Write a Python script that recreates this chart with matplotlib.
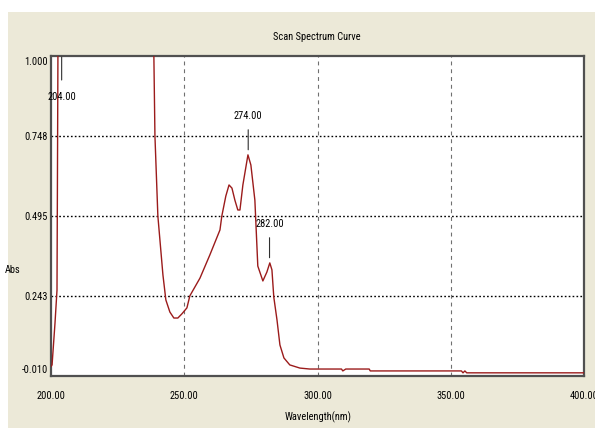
import numpy as np
import matplotlib
matplotlib.use("Agg")
import matplotlib.pyplot as plt
from matplotlib.patches import Rectangle
from matplotlib.transforms import offset_copy, ScaledTranslation
from matplotlib import font_manager

# prefer a narrow face for the labels
_names = {f.name for f in font_manager.fontManager.ttflist}
FONT = [n for n in ["Roboto Condensed", "Liberation Sans Narrow", "Open Sans Condensed",
                    "DejaVu Sans"] if n in _names] or ["DejaVu Sans"]
STRETCH = "condensed"
FS = 7.5

# Absorbance scan (wavelength in nm, absorbance)
wavelength = [200.0, 200.4, 201.5, 202.25, 202.6, 203.0, 204.0, 205.0, 206.0,
              215.0, 230.0, 236.0, 237.5, 238.6, 239.0, 240.1, 242.0, 243.1,
              244.6, 246.1, 247.6, 249.1, 251.0, 252.1, 255.9, 259.6, 263.4,
              264.1, 265.6, 266.8, 267.9, 269.0, 270.1, 270.9, 272.0, 273.9,
              275.0, 276.5, 277.6, 279.5, 281.0, 282.1, 282.9, 283.6, 284.8,
              285.9, 287.4, 289.6, 293.4, 297.1, 300.0, 309.0, 309.5, 310.6,
              319.4, 319.8, 354.0, 354.6, 355.3, 356.0, 400.0]
absorbance = [0.020, 0.025, 0.157, 0.261, 1.000, 1.500, 2.200, 2.000, 1.900,
              2.500, 2.800, 2.000, 1.300, 1.000, 0.748, 0.495, 0.309, 0.230,
              0.192, 0.173, 0.173, 0.186, 0.205, 0.243, 0.299, 0.372, 0.451,
              0.495, 0.558, 0.593, 0.583, 0.545, 0.514, 0.514, 0.593, 0.688,
              0.656, 0.545, 0.337, 0.290, 0.318, 0.347, 0.325, 0.239, 0.167,
              0.088, 0.047, 0.025, 0.015, 0.012, 0.012, 0.012, 0.006, 0.012,
              0.012, 0.006, 0.006, 0.000, 0.006, 0.000, 0.000]

# Picked peaks
peak_wavelengths = [204.0, 274.0, 282.0]

x_ticks = [200.0, 250.0, 300.0, 350.0, 400.0]
y_ticks = [-0.010, 0.243, 0.495, 0.748, 1.000]

title_text = "Scan Spectrum Curve"
x_label = "Wavelength(nm)"
y_label = "Abs"

W, H, DPI = 595, 428, 100
fig = plt.figure(figsize=(W / DPI, H / DPI), dpi=DPI, facecolor="white")
txt = dict(fontfamily=FONT, fontstretch=STRETCH, fontsize=FS)

# dialog-style panel behind the chart
fig.patches.append(Rectangle((8 / W, 0), 1 - 8 / W, 1 - 12 / H,
                             transform=fig.transFigure, facecolor="#ECE9D8",
                             edgecolor="none", zorder=-10))

ax = fig.add_axes([51 / W, 1 - 376 / H, (584 - 51) / W, (376 - 56) / H])
ax.set_facecolor("white")
ax.set_xlim(x_ticks[0], x_ticks[-1])
ax.set_ylim(y_ticks[0], y_ticks[-1])

for s in ax.spines.values():
    s.set_color("#505050")
    s.set_linewidth(1.6)

# grid: dotted black horizontals, dashed grey verticals
for yv in y_ticks[1:-1]:
    ax.axhline(yv, color="black", linestyle=(0, (1.2, 1.6)), linewidth=1.0, zorder=1)
for xv in x_ticks[1:-1]:
    ax.axvline(xv, color="#707070", linestyle=(0, (3.5, 3.5)), linewidth=0.8, zorder=1)

ax.plot(wavelength, absorbance, color="#9B1B1B", linewidth=1.0, zorder=3)

ax.set_xticks(x_ticks)
ax.set_xticklabels([f"{v:.2f}" for v in x_ticks], **txt)
ax.set_yticks(y_ticks)
ax.set_yticklabels([f"{v:.3f}" for v in y_ticks], **txt)
ax.tick_params(axis="both", length=0)
ax.tick_params(axis="x", pad=11)
ax.tick_params(axis="y", pad=2)

# nudge the end labels inward
lbls = ax.get_yticklabels()
lbls[0].set_transform(lbls[0].get_transform() + ScaledTranslation(0, 7 / DPI, fig.dpi_scale_trans))
lbls[-1].set_transform(lbls[-1].get_transform() + ScaledTranslation(0, -5 / DPI, fig.dpi_scale_trans))

# peak markers
ymax = y_ticks[-1]
for pw in peak_wavelengths:
    pv = float(np.interp(pw, wavelength, absorbance))
    if pv >= ymax:
        ref, d0, d1, dl = ymax, -1, -24, -41
    else:
        ref, d0, d1, dl = pv, 6, 26, 40
    t0 = offset_copy(ax.transData, fig=fig, x=0, y=d0, units="dots")
    t1 = offset_copy(ax.transData, fig=fig, x=0, y=d1, units="dots")
    ax.annotate("", xy=(pw, ref), xycoords=t0, xytext=(pw, ref), textcoords=t1,
                arrowprops=dict(arrowstyle="-", color="#303030", lw=0.8,
                                shrinkA=0, shrinkB=0))
    tl = offset_copy(ax.transData, fig=fig, x=0, y=dl, units="dots")
    ax.text(pw, ref, f"{pw:.2f}", transform=tl, ha="center", va="center",
            zorder=5, **txt)

fig.text(317 / W, 1 - 37 / H, title_text, ha="center", va="center", **txt)
fig.text(318 / W, 1 - 417 / H, x_label, ha="center", va="center", **txt)
fig.text(13 / W, 1 - 270 / H, y_label, ha="center", va="center", **txt)

fig.savefig("out.png", dpi=DPI, facecolor="white")
